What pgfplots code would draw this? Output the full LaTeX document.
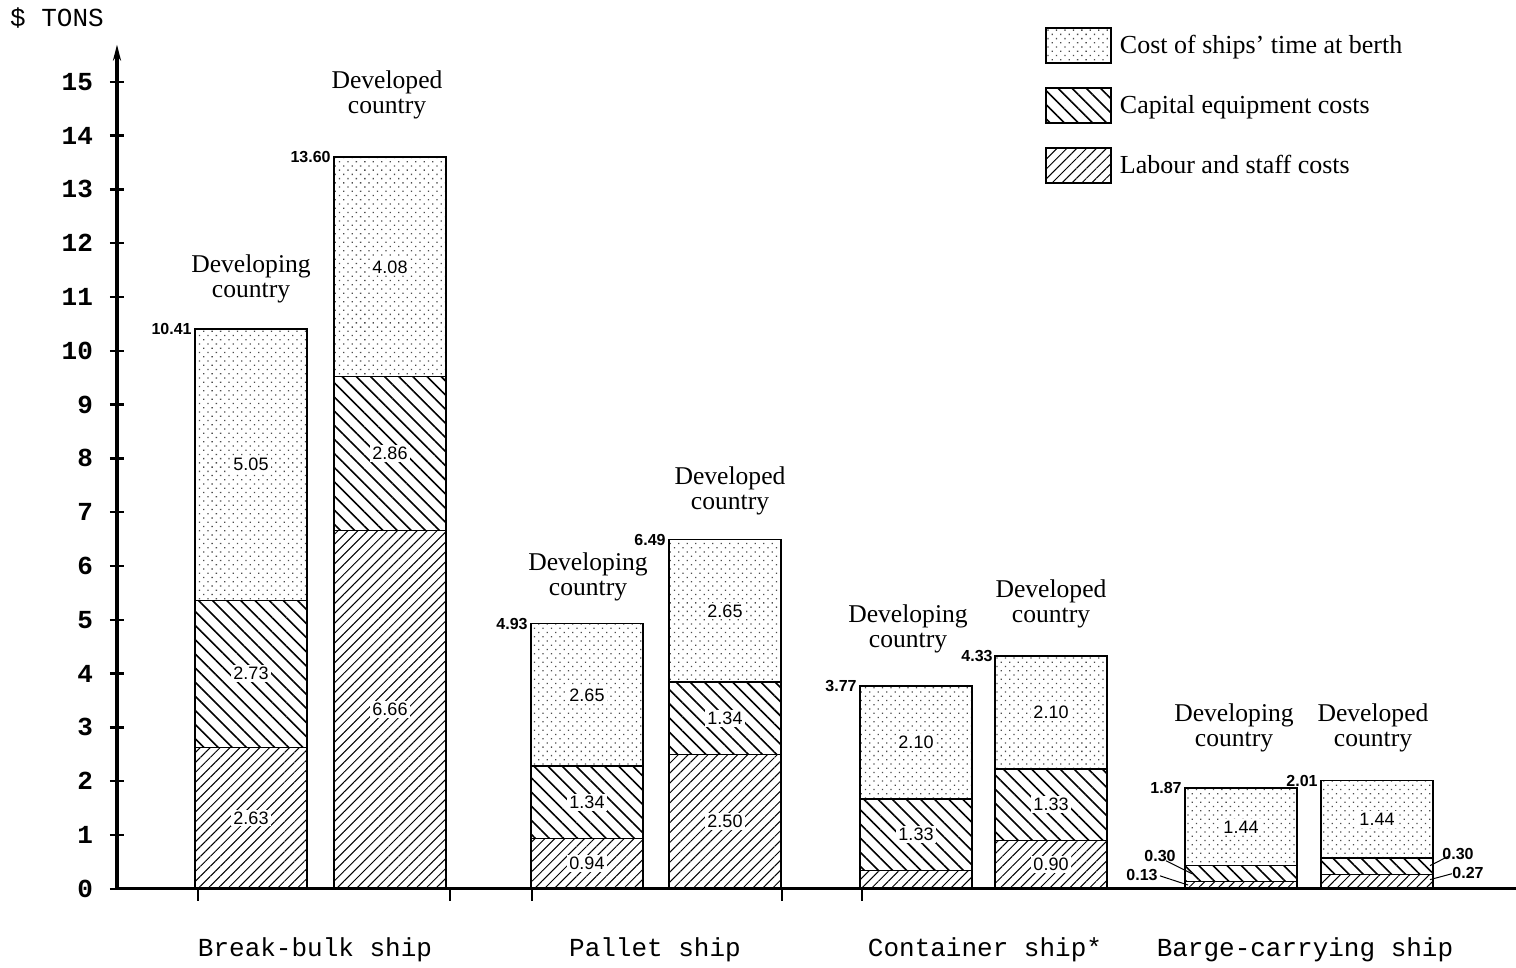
\documentclass[border=0pt]{standalone}
\usepackage{pgfplots}
\pgfplotsset{compat=1.18}
\usetikzlibrary{patterns.meta,arrows.meta}
\usepackage{fontspec}
\setmainfont{Liberation Serif}
\setsansfont{Liberation Sans}
\setmonofont{Liberation Mono}

\tikzset{
  timefill/.style={pattern={Dots[distance=3pt,radius=0.45pt,angle=45]}, pattern color=black!70},
  capfill/.style={pattern={Lines[angle=-45,distance=5pt,line width=0.8pt]}},
  labfill/.style={pattern={Lines[angle=45,distance=3.5pt,line width=0.5pt]}},
  val/.style={font=\sffamily\fontsize{9}{10}\selectfont, fill=white, inner sep=1pt},
  tot/.style={font=\sffamily\bfseries\fontsize{8}{9}\selectfont, anchor=east, inner sep=1pt},
  ctry/.style={font=\fontsize{12.8}{12.5}\selectfont, align=center},
  grp/.style={font=\ttfamily\fontsize{13}{15}\selectfont},
}

\begin{document}
\begin{tikzpicture}
\begin{axis}[
  x=0.5pt, y=26.9pt,
  xmin=117, xmax=1516, ymin=0, ymax=15.69,
  ybar stacked, bar width=112,
  axis x line=bottom, axis y line=left,
  x axis line style={-, line width=1.6pt},
  y axis line style={-{Stealth[length=8pt,width=4pt]}, line width=2pt},
  ytick={0,...,15},
  xtick=\empty,
  extra x ticks={198,450,532,782,862},
  extra x tick labels={},
  extra x tick style={major tick length=6pt, tick align=outside, tick style={line width=0.8pt}},
  major tick length=7pt,
  tick style={line width=1.2pt, black},
  yticklabel style={font=\ttfamily\bfseries\fontsize{13}{15}\selectfont, xshift=-5pt},
  /pgf/number format/assume math mode=true,
  clip=false,
  legend image code/.code={\draw[#1,draw=black,line width=1pt] (0pt,-8.75pt) rectangle (32.5pt,8.75pt);},
  reverse legend,
  legend cell align=left,
  legend style={draw=none, fill=none, at={(0.663,1.021)}, anchor=north west,
    font=\fontsize{13}{13}\selectfont, row sep=11.5pt, inner sep=0pt,
    nodes={inner xsep=4pt}},
]
% labour and staff costs (bottom)
\addplot[draw=black, line width=0.6pt, labfill] coordinates {
  (251,2.63) (390,6.66) (587,0.94) (725,2.50) (916,0.34) (1051,0.90) (1241,0.13) (1377,0.27)};
\addlegendentry{Labour and staff costs}
% capital equipment costs
\addplot[draw=black, line width=0.6pt, capfill] coordinates {
  (251,2.73) (390,2.86) (587,1.34) (725,1.34) (916,1.33) (1051,1.33) (1241,0.30) (1377,0.30)};
\addlegendentry{Capital equipment costs}
% cost of ships' time at berth
\addplot[draw=black, line width=0.8pt, timefill] coordinates {
  (251,5.05) (390,4.08) (587,2.65) (725,2.65) (916,2.10) (1051,2.10) (1241,1.44) (1377,1.44)};
\addlegendentry{Cost of ships' time at berth}

% anchor points for the segment values (drawn after the axis, on top)
\coordinate (v1) at (axis cs:251,1.315);
\coordinate (v2) at (axis cs:251,4.00);
\coordinate (v3) at (axis cs:251,7.885);
\coordinate (v4) at (axis cs:390,3.33);
\coordinate (v5) at (axis cs:390,8.09);
\coordinate (v6) at (axis cs:390,11.56);
\coordinate (v7) at (axis cs:587,0.47);
\coordinate (v8) at (axis cs:587,1.61);
\coordinate (v9) at (axis cs:587,3.605);
\coordinate (v10) at (axis cs:725,1.25);
\coordinate (v11) at (axis cs:725,3.17);
\coordinate (v12) at (axis cs:725,5.165);
\coordinate (v13) at (axis cs:916,1.005);
\coordinate (v14) at (axis cs:916,2.72);
\coordinate (v15) at (axis cs:1051,0.45);
\coordinate (v16) at (axis cs:1051,1.565);
\coordinate (v17) at (axis cs:1051,3.28);
\coordinate (v18) at (axis cs:1241,1.15);
\coordinate (v19) at (axis cs:1377,1.29);

% totals
\node[tot] at (axis cs:194,10.41) {10.41};
\node[tot] at (axis cs:333,13.60) {13.60};
\node[tot] at (axis cs:530,4.93) {4.93};
\node[tot] at (axis cs:668,6.49) {6.49};
\node[tot] at (axis cs:859,3.77) {3.77};
\node[tot] at (axis cs:995,4.33) {4.33};
\node[tot] at (axis cs:1184,1.87) {1.87};
\node[tot] at (axis cs:1320,2.01) {2.01};

% small barge values with leaders
\node[tot] at (axis cs:1178,0.61) {0.30};
\draw[line width=0.5pt] (axis cs:1166,0.52) -- (axis cs:1192,0.28);
\node[tot] at (axis cs:1160,0.26) {0.13};
\draw[line width=0.5pt] (axis cs:1160,0.24) -- (axis cs:1188,0.07);
\node[tot, anchor=west] at (axis cs:1440,0.65) {0.30};
\draw[line width=0.5pt] (axis cs:1448,0.60) -- (axis cs:1430,0.43);
\node[tot, anchor=west] at (axis cs:1450,0.30) {0.27};
\draw[line width=0.5pt] (axis cs:1452,0.28) -- (axis cs:1430,0.17);

% country labels
\node[ctry] at (axis cs:251,11.34) {Developing\\country};
\node[ctry] at (axis cs:387,14.76) {Developed\\country};
\node[ctry] at (axis cs:588,5.80) {Developing\\country};
\node[ctry] at (axis cs:730,7.40) {Developed\\country};
\node[ctry] at (axis cs:908,4.83) {Developing\\country};
\node[ctry] at (axis cs:1051,5.30) {Developed\\country};
\node[ctry] at (axis cs:1234,2.99) {Developing\\country};
\node[ctry] at (axis cs:1373,2.99) {Developed\\country};

% group labels
\node[grp] at (axis cs:315,-1.13) {Break-bulk ship};
\node[grp] at (axis cs:655,-1.13) {Pallet ship};
\node[grp] at (axis cs:985,-1.13) {Container ship*};
\node[grp] at (axis cs:1305,-1.13) {Barge-carrying ship};

% unit label
\node[grp] at (axis cs:57,16.19) {\$ TONS};

\coordinate (bbsw) at (axis cs:0,-1.468);
\coordinate (bbne) at (axis cs:1516,16.52);
\end{axis}
\foreach \n/\t in {1/2.63,2/2.73,3/5.05,4/6.66,5/2.86,6/4.08,7/0.94,8/1.34,9/2.65,
  10/2.50,11/1.34,12/2.65,13/1.33,14/2.10,15/0.90,16/1.33,17/2.10,18/1.44,19/1.44}
  \node[val] at (v\n) {\t};
\pgfresetboundingbox
\path (bbsw) rectangle (bbne);
\end{tikzpicture}
\end{document}
